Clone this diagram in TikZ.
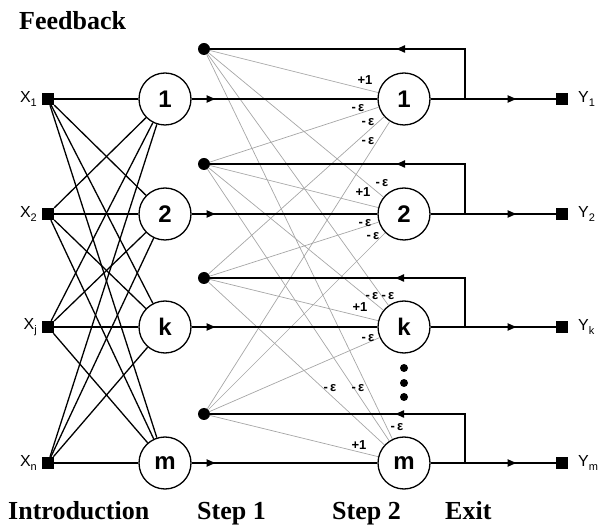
\documentclass[tikz,border=0pt]{standalone}
\usepackage{fontspec}
\setmainfont{Liberation Serif}
\setsansfont{Liberation Sans}
\usetikzlibrary{arrows.meta,decorations.markings}
\tikzset{
 neuron/.style={circle,draw,line width=1.3pt,minimum size=52pt,inner sep=0pt,fill=white,font=\sffamily\bfseries\fontsize{24}{24}\selectfont},
 sq/.style={rectangle,fill=black,minimum size=12pt,inner sep=0pt},
 fdot/.style={circle,fill=black,minimum size=12pt,inner sep=0pt},
 wire/.style={line width=1.3pt},
 weight/.style={draw=gray!70,line width=0.7pt},
 lab/.style={font=\sffamily\fontsize{16}{16}\selectfont,inner sep=0pt},
 wl/.style={font=\sffamily\bfseries\fontsize{13}{13}\selectfont,inner sep=0pt},
 ttl/.style={font=\bfseries\fontsize{26}{26}\selectfont,anchor=base west,inner sep=0pt},
 midarrow/.style={postaction={decorate},decoration={markings,mark=at position #1 with {\arrow{Latex[length=10pt,width=8pt]}}}},
 smalldot/.style={circle,fill=black,minimum size=8pt,inner sep=0pt},
}
\newcommand{\sub}[1]{\raisebox{-4pt}{\fontsize{11}{11}\selectfont #1}}
\begin{document}
\begin{tikzpicture}[x=1pt,y=-1pt]
\useasboundingbox (0,0) rectangle (608,526);
% titles
\node[ttl] (tfb) at (19,30) {Feedback};
\node[ttl] (tin) at (8,519) {Introduction};
\node[ttl] (ts1) at (197,519) {Step 1};
\node[ttl] (ts2) at (332,519) {Step 2};
\node[ttl] (tex) at (445,519) {Exit};
% inputs
\foreach \n/\y/\s in {1/99/1, 2/214/2, 3/327/j, 4/463/n}{
  \node[sq] (x\n) at (48,\y) {};
  \node[lab,anchor=east] (xl\n) at (37,\y) {X\sub{\s}};
}
% neurons
\foreach \n/\y/\t in {1/99/1, 2/214/2, 3/327/k, 4/463/m}{
  \node[neuron] (a\n) at (165,\y) {\t};
  \node[neuron] (b\n) at (404,\y) {\t};
  \node[sq] (y\n) at (562,\y) {};
  \coordinate (br\n) at (465,\y);
}
\node[lab,anchor=west] (ylab1) at (578,99) {Y\sub{1}};
\node[lab,anchor=west] (ylab2) at (578,214) {Y\sub{2}};
\node[lab,anchor=west] (ylab3) at (578,327) {Y\sub{k}};
\node[lab,anchor=west] (ylab4) at (578,463) {Y\sub{m}};
% feedback dots
\foreach \n/\y in {1/49, 2/164, 3/278, 4/414}{
  \node[fdot] (d\n) at (204,\y) {};
}
% vertical ellipsis
\node[smalldot] (e1) at (404,368) {};
\node[smalldot] (e2) at (404,383) {};
\node[smalldot] (e3) at (404,397) {};
% input connections
\foreach \i in {1,...,4}{
  \foreach \j in {1,...,4}{
    \draw[wire] (x\i) -- (a\j);
  }
}
% weight lines
\foreach \i in {1,...,4}{
  \foreach \j in {1,...,4}{
    \draw[weight] (d\i) -- (b\j);
  }
}
% forward, output, feedback
\foreach \n in {1,...,4}{
  \draw[wire,midarrow=25pt] (a\n) -- (b\n);
  \draw[wire,midarrow=87pt] (b\n) -- (y\n);
  \draw[wire,midarrow=120pt] (br\n) |- (d\n);
}
% weight labels
\node[wl] (w1) at (365,80) {+1};
\node[wl] (w2) at (358,108) {-\,ε};
\node[wl] (w3) at (368,122) {-\,ε};
\node[wl] (w4) at (368,141) {-\,ε};
\node[wl] (w5) at (382,183) {-\,ε};
\node[wl] (w6) at (363,192) {+1};
\node[wl] (w7) at (365,223) {-\,ε};
\node[wl] (w8) at (373,236) {-\,ε};
\node[wl] (w9) at (372,296) {-\,ε};
\node[wl] (w10) at (388,296) {-\,ε};
\node[wl] (w11) at (360,307) {+1};
\node[wl] (w12) at (368,338) {-\,ε};
\node[wl] (w13) at (330,388) {-\,ε};
\node[wl] (w14) at (358,388) {-\,ε};
\node[wl] (w15) at (397,427) {-\,ε};
\node[wl] (w16) at (359,445) {+1};
\end{tikzpicture}
\end{document}
